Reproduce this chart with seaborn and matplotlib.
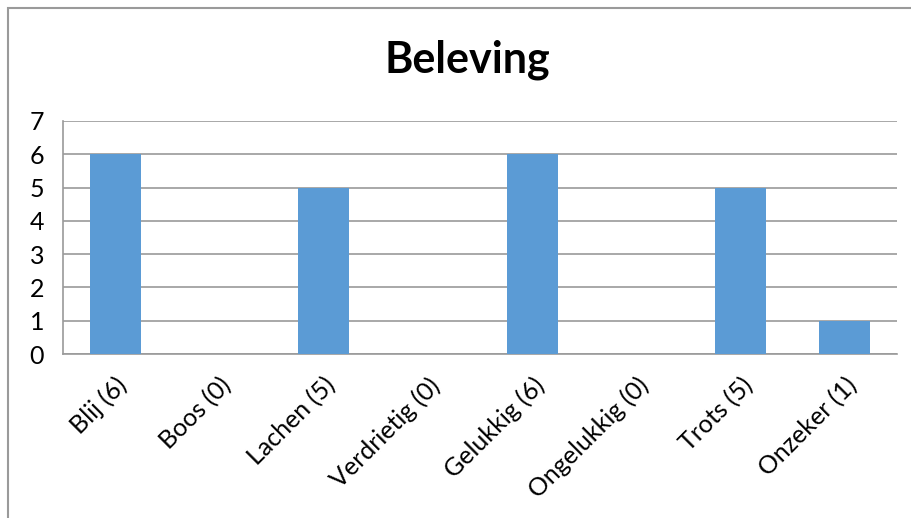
import matplotlib
matplotlib.use("Agg")
from matplotlib import pyplot as plt
from matplotlib.patches import Rectangle
import seaborn as sns
import pandas as pd

categories = ["Blij (6)", "Boos (0)", "Lachen (5)", "Verdrietig (0)",
              "Gelukkig (6)", "Ongelukkig (0)", "Trots (5)", "Onzeker (1)"]
values = [6, 0, 5, 0, 6, 0, 5, 1]
yticks = [0, 1, 2, 3, 4, 5, 6, 7]

sns.set_style("white")
plt.rcParams['font.family'] = ['Lato', 'DejaVu Sans']
plt.rcParams['text.color'] = 'black'
plt.rcParams['xtick.color'] = 'black'
plt.rcParams['ytick.color'] = 'black'

df = pd.DataFrame({"cat": categories, "val": values})

fig = plt.figure(figsize=(9.12, 5.18), dpi=100)
ax = fig.add_axes([63 / 912, 1 - 354 / 518, (897 - 63) / 912, (354 - 121) / 518])

sns.barplot(data=df, x="cat", y="val", color="#5B9BD5", width=0.49,
            saturation=1, linewidth=0, ax=ax, zorder=3)

ax.set_ylim(0, 7)
ax.set_xlim(-0.5, len(categories) - 0.5)
ax.set_yticks(yticks)
ax.yaxis.grid(True, color="#9A9A9A", linewidth=1.2, zorder=0)
ax.set_axisbelow(True)
for side in ["top", "right"]:
    ax.spines[side].set_visible(False)
ax.spines["left"].set_color("#9A9A9A")
ax.spines["bottom"].set_color("#9A9A9A")
ax.spines["left"].set_linewidth(1.2)
ax.spines["bottom"].set_linewidth(1.2)

ax.set_xlabel("")
ax.set_ylabel("")
ax.tick_params(axis="both", length=0, labelsize=18, labelcolor="black")
ax.tick_params(axis="y", pad=24)
ax.tick_params(axis="x", pad=14)
for lab in ax.get_yticklabels():
    lab.set_horizontalalignment("left")
plt.setp(ax.get_xticklabels(), rotation=45, ha="right", rotation_mode="anchor")

fig.text(467 / 912, 1 - 60 / 518, "Beleving", ha="center", va="center",
         fontsize=31, fontweight="bold", color="black")

# outer chart border (only left and top visible in the crop)
fig.patches.append(Rectangle((8 / 912, -0.1), 1.2, 1 - 8 / 518 + 0.1,
                             transform=fig.transFigure, fill=False,
                             edgecolor="#9A9A9A", linewidth=1.5))

fig.savefig("out.png", dpi=100)
plt.close(fig)
